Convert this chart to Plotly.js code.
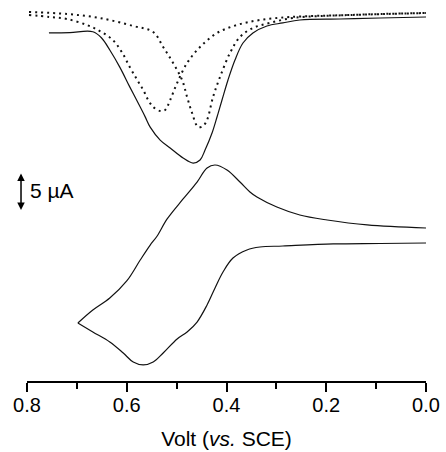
<!DOCTYPE html>
<html>
<head>
<meta charset="utf-8">
<script src="https://cdn.plot.ly/plotly-3.0.1.min.js"></script>
<style>html,body{margin:0;padding:0;background:#fff;}#chart{width:446px;height:452px;}</style>
</head>
<body>
<div id="chart"></div>
<script>
// Curve a, solid (potential in V vs SCE, current in µA, offset-stacked)
const aSolidV = [0.756,0.714,0.668,0.650,0.634,0.614,0.594,0.573,0.563,0.553,0.533,0.513,0.487,0.467,0.453,0.443,0.429,0.419,0.409,0.397,0.383,0.367,0.347,0.319,0.287,0.253,0.172,0.092,0.0];
const aSolidI = [45.8,45.85,45.95,45.1,43.55,41.3,38.7,36.05,34.75,33.4,31.7,30.66,29.34,28.68,29.08,30.39,32.63,34.74,36.97,39.61,42.24,44.47,45.79,46.71,47.11,47.5,47.63,47.76,47.89];
// Curve a, dotted (first peak)
const aDot1V = [0.796,0.754,0.720,0.680,0.654,0.628,0.610,0.594,0.579,0.567,0.557,0.547,0.533,0.523,0.513,0.499,0.479,0.453,0.419,0.379,0.333,0.273,0.152,0.0];
const aDot1I = [48.16,47.89,47.63,46.84,46.05,44.87,43.29,41.32,39.61,38.29,36.97,36.05,35.53,35.66,36.97,39.21,41.84,43.95,45.79,46.84,47.5,47.89,48.16,48.42];
// Curve a, dotted (second peak)
const aDot2V = [0.796,0.720,0.654,0.587,0.547,0.527,0.507,0.489,0.479,0.469,0.457,0.447,0.439,0.427,0.413,0.393,0.373,0.347,0.313,0.267,0.152,0.0];
const aDot2I = [48.55,48.29,47.76,46.71,45.92,43.95,41.84,39.61,37.37,35.26,33.42,33.55,34.34,37.37,40.0,43.16,45.26,46.45,47.11,47.76,48.16,48.42];
// Curve b, cyclic voltammogram: forward branch then reverse branch
const bFwdV = [0.0,0.092,0.186,0.287,0.333,0.359,0.387,0.407,0.423,0.439,0.459,0.479,0.499,0.527,0.547,0.567,0.587,0.607,0.634,0.668,0.698];
const bFwdI = [18.16,18.09,18.03,17.76,17.63,17.24,16.18,14.34,12.24,10.0,7.76,6.45,5.53,3.68,2.5,2.11,2.5,3.68,5.13,6.45,7.63];
const bRevV = [0.698,0.668,0.634,0.600,0.573,0.553,0.539,0.519,0.487,0.459,0.439,0.423,0.399,0.373,0.353,0.339,0.299,0.253,0.198,0.118,0.0];
const bRevI = [7.63,9.34,10.92,13.16,15.92,17.89,19.08,21.32,23.95,26.18,28.03,28.42,27.76,26.18,24.87,24.21,22.89,21.84,21.18,20.53,20.13];
// Axis ticks
const tickVals = [0.8,0.6,0.4,0.2,0.0];
const tickText = ["0.8","0.6","0.4","0.2","0.0"];
// Scale bar (µA)
const scaleBarFrom = 22.3;
const scaleBarSize = 5;

const FONT = "Liberation Sans, Arial, sans-serif";
const solid = {color: '#111', width: 1.2, shape: 'spline', smoothing: 1};
const dotted = {color: '#111', width: 2, dash: '2px,4px', shape: 'spline', smoothing: 1};
const traces = [
  {x: aDot1V, y: aDot1I, mode: 'lines', line: dotted},
  {x: aDot2V, y: aDot2I, mode: 'lines', line: dotted},
  {x: aSolidV, y: aSolidI, mode: 'lines', line: solid},
  {x: bFwdV, y: bFwdI, mode: 'lines', line: solid},
  {x: bRevV, y: bRevI, mode: 'lines', line: solid}
];
const layout = {
  width: 446, height: 452,
  margin: {l: 27, r: 20, t: 0, b: 71},
  paper_bgcolor: '#fff', plot_bgcolor: '#fff',
  showlegend: false,
  font: {family: FONT, color: '#000', size: 20},
  xaxis: {
    range: [0.8, 0.0], showgrid: false, zeroline: false,
    showline: true, linewidth: 2, linecolor: '#000',
    ticks: 'outside', ticklen: 9, tickwidth: 2, tickcolor: '#000',
    tickvals: tickVals, ticktext: tickText, ticklabelstandoff: -4,
    tickfont: {family: FONT, size: 20, color: '#000'},
    minor: {dtick: 0.1, ticks: 'outside', ticklen: 6, tickwidth: 2, tickcolor: '#000', showgrid: false},
    title: {text: 'Volt (<i>vs.</i> SCE)', font: {family: FONT, size: 21, color: '#000'}, standoff: 16}
  },
  yaxis: {range: [0, 50.13], visible: false, fixedrange: true},
  annotations: [
    {x: -0.015, y: scaleBarFrom + scaleBarSize, xref: 'paper', yref: 'y', ax: 0, ay: 38,
     showarrow: true, arrowhead: 2, arrowside: 'end+start', arrowsize: 1, arrowwidth: 1.5, arrowcolor: '#000', text: ''},
    {x: 0.798, y: 25.1, xref: 'x', yref: 'y', xanchor: 'left', yanchor: 'middle', showarrow: false,
     text: '5 µA', font: {family: FONT, size: 21, color: '#000'}},
    {x: -0.014, y: 44.2, xref: 'x', yref: 'y', xanchor: 'left', yanchor: 'middle', showarrow: false,
     text: 'a', font: {family: FONT, size: 21, color: '#000'}},
    {x: -0.026, y: 15.6, xref: 'x', yref: 'y', xanchor: 'left', yanchor: 'middle', showarrow: false,
     text: 'b', font: {family: FONT, size: 21, color: '#000'}}
  ]
};
Plotly.newPlot('chart', traces, layout, {displayModeBar: false, staticPlot: true});
</script>
</body>
</html>
